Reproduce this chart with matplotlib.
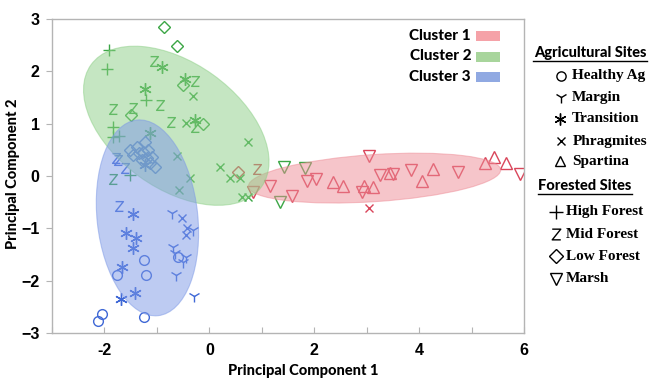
import numpy as np
import matplotlib
matplotlib.use("Agg")
import matplotlib.pyplot as plt
from matplotlib.patches import Ellipse, Rectangle
from matplotlib.path import Path

# Puntajes PCA por cluster: PC1, PC2 y tipo de sitio de cada muestra
c1_pc1 = [0.55, 0.90, 0.84, 1.16, 1.58, 1.87, 2.04, 2.35, 2.54, 2.94, 2.92, 3.04,
          3.05, 3.13, 3.26, 3.45, 3.50, 3.84, 4.06, 4.27, 4.75, 5.25, 5.42, 5.65, 5.92]
c1_pc2 = [0.08, 0.13, -0.31, -0.19, -0.38, -0.10, -0.06, -0.11, -0.19, -0.19, -0.31, 0.38,
          -0.61, -0.21, 0.02, 0.06, 0.04, 0.11, -0.10, 0.13, 0.07, 0.25, 0.36, 0.25, 0.04]
c1_site = ["Low Forest", "Mid Forest", "Marsh", "Marsh", "Marsh", "Marsh", "Marsh",
           "Spartina", "Spartina", "Spartina", "Marsh", "Marsh", "Phragmites", "Spartina",
           "Marsh", "Spartina", "Marsh", "Marsh", "Spartina", "Spartina", "Marsh",
           "Spartina", "Spartina", "Spartina", "Marsh"]

c2_pc1 = [-0.86, -0.61, -0.50, -1.49, -0.13,
          -1.91, -1.95, -1.20, -1.83, -1.83, -1.72, -1.51,
          -1.05, -0.27, -0.94, -1.83, -1.45, -0.74, -0.27, -1.83,
          -0.90, -0.46, -1.22, -0.27, -1.13,
          -0.32, -0.44, 0.74, -0.61, -0.36, -0.57, 0.21, 0.40, 0.59, 0.63, 0.73,
          1.43, 1.83, 1.35]
c2_pc2 = [2.85, 2.49, 1.74, 1.17, 0.99,
          2.41, 2.05, 1.45, 0.94, 0.75, 0.76, 0.02,
          2.20, 1.82, 1.36, 1.28, 1.30, 1.03, 0.94, -0.06,
          2.08, 1.85, 1.66, 1.07, 0.82,
          1.53, 1.01, 0.65, 0.38, -0.04, -0.27, 0.17, -0.04, -0.04, -0.40, -0.40,
          0.17, 0.15, -0.50]
c2_site = (["Low Forest"] * 5 + ["High Forest"] * 7 + ["Mid Forest"] * 8 +
           ["Transition"] * 5 + ["Phragmites"] * 11 + ["Marsh"] * 3)

c3_pc1 = [-1.78, -1.74, -1.60, -1.72,
          -1.51, -1.37, -1.22, -1.45, -1.35, -1.26, -1.16, -1.28, -1.18, -1.09, -1.03, -1.13,
          -1.22, -1.45, -1.58, -1.39, -1.45, -1.66, -1.41, -1.68,
          -0.71, -0.32, -0.69, -0.65, -0.44, -0.50, -0.63, -0.29,
          -0.53, -0.42, -0.44,
          -1.24, -0.59, -1.76, -1.20, -2.04, -2.12, -1.24]
c3_pc2 = [0.34, 0.30, 0.15, -0.57,
          0.50, 0.55, 0.65, 0.40, 0.44, 0.46, 0.50, 0.31, 0.34, 0.36, 0.17, 0.25,
          0.21, -0.73, -1.09, -1.19, -1.38, -1.74, -2.24, -2.35,
          -0.71, -1.03, -1.36, -1.47, -1.55, -1.64, -1.89, -2.29,
          -0.80, -0.99, -1.13,
          -1.61, -1.55, -1.89, -1.89, -2.64, -2.77, -2.70]
c3_site = (["Mid Forest"] * 4 + ["Low Forest"] * 12 + ["Transition"] * 8 +
           ["Margin"] * 8 + ["Phragmites"] * 3 + ["Healthy Ag"] * 7)

# Elipses de cada cluster: centro (PC1, PC2), ancho, alto, angulo
c1_elipse = (3.15, -0.04, 4.82, 0.90, 3.8)
c2_elipse = (-0.63, 0.96, 4.0, 2.4, -35.7)
c3_elipse = (-1.18, -0.80, 3.76, 1.92, -83.8)

agri_sites = ["Healthy Ag", "Margin", "Transition", "Phragmites", "Spartina"]
forest_sites = ["High Forest", "Mid Forest", "Low Forest", "Marsh"]

# marcador "Z" de trazo fino
zeta = Path([(-0.8, 1), (0.8, 1), (-0.8, -1), (0.8, -1)],
            [Path.MOVETO, Path.LINETO, Path.LINETO, Path.LINETO])

marcadores = {"Healthy Ag": "o", "Margin": "1", "Transition": (6, 2, 0),
              "Phragmites": "x", "Spartina": "^", "High Forest": "+",
              "Mid Forest": zeta, "Low Forest": "D", "Marsh": "v"}
tamanios = {"Healthy Ag": 7, "Margin": 9, "Transition": 9, "Phragmites": 6,
            "Spartina": 8, "High Forest": 9, "Mid Forest": 7, "Low Forest": 6.5,
            "Marsh": 8}

col_puntos = ["#d9455a", "#3ba645", "#3f68d6"]
col_relleno = ["#ee8c96", "#8ccf86", "#7c98e6"]
col_leyenda = ["#f5a2a8", "#a8d59c", "#90a9e2"]

cond = ["Liberation Sans", "DejaVu Sans"]
sans = ["Lato", "DejaVu Sans"]
serif = ["Liberation Serif", "DejaVu Serif"]

fig = plt.figure(figsize=(6.49, 3.79), dpi=100)
ax = fig.add_axes([52/649, 1-333/379, 472/649, 314/379])

clusters = [(c1_pc1, c1_pc2, c1_site, c1_elipse),
            (c2_pc1, c2_pc2, c2_site, c2_elipse),
            (c3_pc1, c3_pc2, c3_site, c3_elipse)]

for i, (px, py, sitio, elip) in enumerate(clusters):
    px = np.array(px)
    py = np.array(py)
    sitio = np.array(sitio)
    for s in agri_sites + forest_sites:
        m = sitio == s
        if not m.any():
            continue
        ax.plot(px[m], py[m], linestyle="none", marker=marcadores[s],
                markersize=tamanios[s], markerfacecolor="none",
                markeredgecolor=col_puntos[i], color=col_puntos[i],
                markeredgewidth=1.0, zorder=2)
    cx, cy, w, h, ang = elip
    ax.add_patch(Ellipse((cx, cy), w, h, angle=ang, facecolor=col_relleno[i],
                         edgecolor=col_relleno[i], alpha=0.5, lw=0.8, zorder=3))

ax.set_xlim(-3, 6)
ax.set_ylim(-3, 3)
ax.set_xticks(np.arange(-3, 7))
ax.set_xticklabels(["" if v % 2 else str(v) for v in range(-3, 7)])
ax.set_yticks(np.arange(-3, 4))
for sp in ax.spines.values():
    sp.set_color("#b4b4b4")
    sp.set_linewidth(1.0)
ax.tick_params(axis="x", direction="in", length=4, color="#b4b4b4", pad=7)
ax.tick_params(axis="y", direction="out", length=4, color="#b4b4b4", pad=5)
for t in ax.get_xticklabels() + ax.get_yticklabels():
    t.set_family(cond)
    t.set_fontweight("bold")
    t.set_fontsize(11.5)

fig.text(303/649, 1-371/379, "Principal Component 1", ha="center", va="center",
         family=sans, fontweight="black", fontsize=10.5)
fig.text(13/649, 1-174/379, "Principal Component 2", ha="center", va="center",
         rotation=90, family=sans, fontweight="black", fontsize=10.5)

# capa en pixeles para las leyendas
lax = fig.add_axes([0, 0, 1, 1], zorder=5)
lax.set_xlim(0, 649)
lax.set_ylim(379, 0)
lax.axis("off")

for i in range(3):
    yy = 36 + i * 20.5
    lax.text(471, yy, "Cluster %d" % (i + 1), ha="right", va="center",
             family=sans, fontweight="black", fontsize=11)
    lax.add_patch(Rectangle((476, yy - 5), 24, 10, facecolor=col_leyenda[i],
                            edgecolor="none"))

def titulo(x0, x1, y, texto):
    lax.text((x0 + x1) / 2, y, texto, ha="center", va="center", family=sans,
             fontweight="black", fontsize=10.5)
    lax.plot([x0, x1], [y + 8, y + 8], color="black", lw=1.0)

titulo(533, 647, 53, "Agricultural Sites")
titulo(538, 632, 186, "Forested Sites")

filas_agri = [76, 97, 119, 141, 161]
filas_forest = [212, 234, 256, 279]
leg_x = [(561, 572), (561, 572), (560, 572), (561, 573), (560, 572)]
for s, yy, (mx, tx) in zip(agri_sites, filas_agri, leg_x):
    lax.plot(mx, yy, linestyle="none", marker=marcadores[s],
             markersize=tamanios[s] * 0.95, markerfacecolor="none",
             markeredgecolor="black", markeredgewidth=1.0)
    lax.text(tx, yy, s, ha="left", va="center", family=serif,
             fontweight="bold", fontsize=11)
for s, yy in zip(forest_sites, filas_forest):
    lax.plot(556, yy, linestyle="none", marker=marcadores[s],
             markersize=tamanios[s] * 1.1, markerfacecolor="none",
             markeredgecolor="black", markeredgewidth=1.0)
    lax.text(566, yy, s, ha="left", va="center", family=serif,
             fontweight="bold", fontsize=11)

fig.savefig("out.png", dpi=100)
